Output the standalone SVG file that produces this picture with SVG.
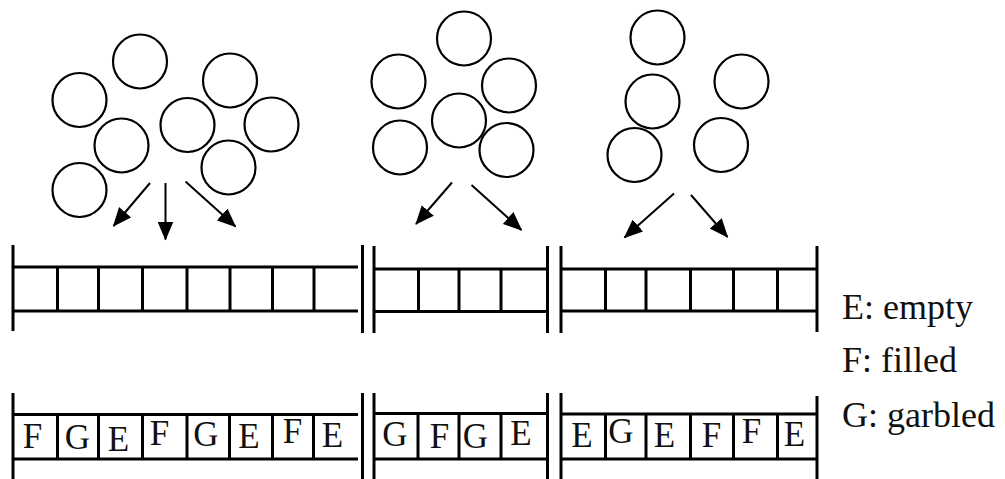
<svg xmlns="http://www.w3.org/2000/svg" width="1005" height="479" viewBox="0 0 1005 479">
<style>
.c{fill:none;stroke:#000;stroke-width:2.2}
.l{stroke:#000;stroke-width:3;fill:none;stroke-linecap:butt}
.a{stroke:#000;stroke-width:2;fill:none}
.t{font-family:"Liberation Serif","Times New Roman",serif;font-size:35px;fill:#111;text-anchor:middle}
.g{font-family:"Liberation Serif","Times New Roman",serif;font-size:36px;fill:#111}
</style>
<defs>
<marker id="ah" viewBox="0 0 19 16" refX="18" refY="8" markerWidth="19" markerHeight="16" orient="auto" markerUnits="userSpaceOnUse">
<path d="M0,0 L19,8 L0,16 z" fill="#000"/>
</marker>
</defs>
<rect width="1005" height="479" fill="#fff"/>
<g id="cluster1">
<circle class="c" cx="140" cy="61.5" r="27"/>
<circle class="c" cx="79.5" cy="100" r="27"/>
<circle class="c" cx="230" cy="80.5" r="27"/>
<circle class="c" cx="121.5" cy="145.5" r="27"/>
<circle class="c" cx="187.5" cy="125" r="27"/>
<circle class="c" cx="271.5" cy="124.5" r="27"/>
<circle class="c" cx="79.5" cy="190" r="27"/>
<circle class="c" cx="228.5" cy="167.5" r="27"/>
</g>
<g id="cluster2">
<circle class="c" cx="464" cy="38.5" r="27"/>
<circle class="c" cx="398.5" cy="81.5" r="27"/>
<circle class="c" cx="509" cy="85.5" r="27"/>
<circle class="c" cx="459" cy="120.5" r="27"/>
<circle class="c" cx="400" cy="147.5" r="27"/>
<circle class="c" cx="506.5" cy="150" r="27"/>
</g>
<g id="cluster3">
<circle class="c" cx="657.5" cy="37.5" r="27"/>
<circle class="c" cx="741.5" cy="81.5" r="27"/>
<circle class="c" cx="652.5" cy="101.5" r="27"/>
<circle class="c" cx="634.5" cy="155" r="27"/>
<circle class="c" cx="721" cy="145" r="27"/>
</g>
<g id="connectors">
<line class="a" x1="150" y1="183" x2="113.5" y2="226" marker-end="url(#ah)"/>
<line class="a" x1="165.5" y1="183" x2="165.5" y2="239.5" marker-end="url(#ah)"/>
<line class="a" x1="185.5" y1="181.5" x2="235.5" y2="226.5" marker-end="url(#ah)"/>
<line class="a" x1="452" y1="182.5" x2="416" y2="224" marker-end="url(#ah)"/>
<line class="a" x1="471.5" y1="185" x2="521.5" y2="230" marker-end="url(#ah)"/>
<line class="a" x1="674" y1="193.5" x2="624.5" y2="237.5" marker-end="url(#ah)"/>
<line class="a" x1="691" y1="195" x2="727.5" y2="237" marker-end="url(#ah)"/>
</g>
<g id="register-top">
<path class="l" d="M13,245 V331 M362.5,245 V333 M374,246 V333 M547.5,246 V333 M561,246 V333 M817,246 V332"/>
<path class="l" d="M13,267 H358 M13,311 H358 M57.5,267 V311 M98.5,267 V311 M142.5,267 V311 M187,267 V311 M230,267 V311 M272.5,267 V311 M314,267 V311"/>
<path class="l" d="M374,269 H547 M374,311.5 H547 M418.5,269 V311.5 M459,269 V311.5 M501,269 V311.5"/>
<path class="l" d="M561,269 H817 M561,311 H817 M605.5,269 V311 M646,269 V311 M690.5,269 V311 M733.5,269 V311 M777.5,269 V311"/>
</g>
<g id="register-bottom">
<path class="l" d="M13,393 V479 M362.5,393 V479 M374,393 V479 M547.5,393 V479 M561,393 V479 M817,396 V479"/>
<path class="l" d="M13,414.5 H358 M13,459 H358 M57.5,414.5 V459 M98.5,414.5 V459 M142.5,414.5 V459 M187,414.5 V459 M229.5,414.5 V459 M272.5,414.5 V459 M313.5,414.5 V459"/>
<path class="l" d="M374,413.5 H547 M374,459 H547 M418,413.5 V459 M459,413.5 V459 M501,413.5 V459"/>
<path class="l" d="M561,414 H817 M561,459 H817 M605.5,414 V459 M646,414 V459 M690.5,414 V459 M733.5,414 V459 M777.5,414 V459"/>
<text class="t" x="32.5" y="448">F</text>
<text class="t" x="77.5" y="449">G</text>
<text class="t" x="118.5" y="450.5">E</text>
<text class="t" x="159.5" y="445">F</text>
<text class="t" x="206" y="446">G</text>
<text class="t" x="249" y="448">E</text>
<text class="t" x="292.5" y="443">F</text>
<text class="t" x="332.5" y="446.5">E</text>
<text class="t" x="395" y="446">G</text>
<text class="t" x="439.5" y="448">F</text>
<text class="t" x="475.5" y="447.5">G</text>
<text class="t" x="521" y="445">E</text>
<text class="t" x="582" y="446.5">E</text>
<text class="t" x="621" y="442.5">G</text>
<text class="t" x="664.5" y="446.5">E</text>
<text class="t" x="711.5" y="446.5">F</text>
<text class="t" x="751.5" y="443">F</text>
<text class="t" x="794.5" y="446">E</text>
</g>
<g id="legend">
<text class="g" x="842" y="319">E: empty</text>
<text class="g" x="842" y="372">F: filled</text>
<text class="g" x="842" y="427">G: garbled</text>
</g>
</svg>
